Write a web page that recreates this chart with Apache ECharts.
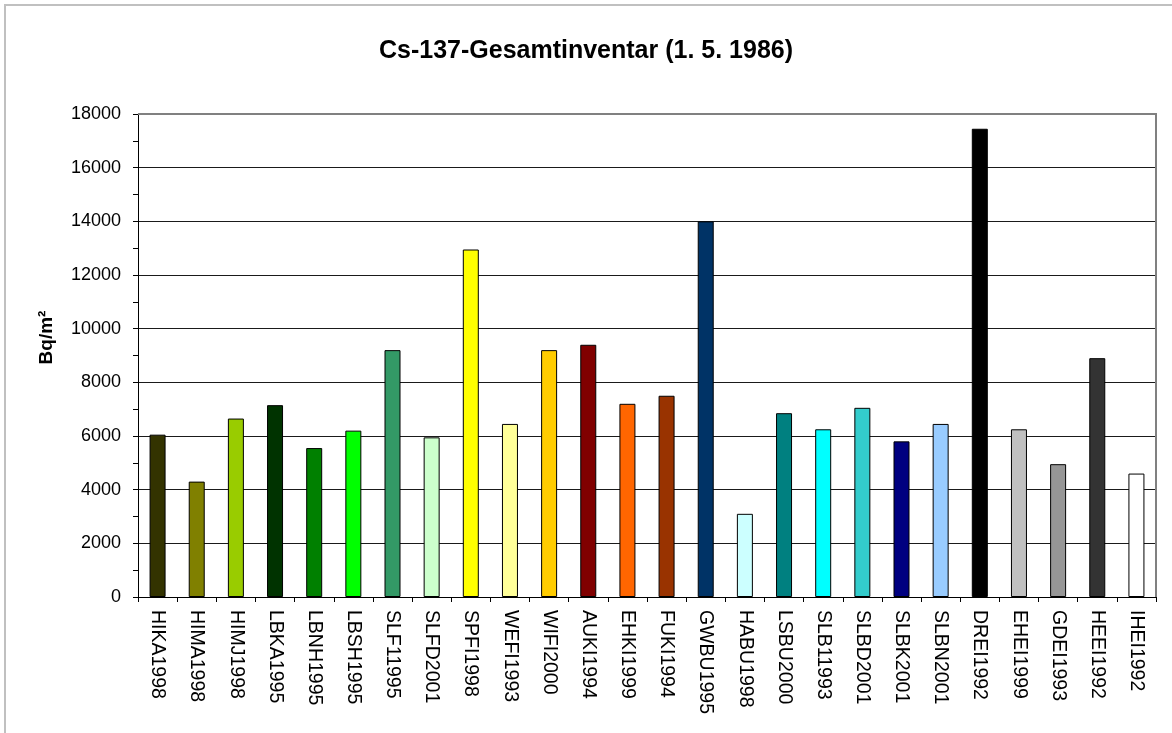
<!DOCTYPE html>
<html>
<head>
<meta charset="utf-8">
<script src="https://cdn.jsdelivr.net/npm/echarts@6/dist/echarts.min.js"></script>
<style>
  html, body { margin: 0; padding: 0; background: #fff; overflow: hidden; }
  #main { position: absolute; left: 0; top: 0; width: 1172px; height: 733px; }
  #frame { position: absolute; left: 4px; top: 4px; width: 1400px; height: 1000px;
    border: 2px solid #c0c0c0; pointer-events: none; }
</style>
</head>
<body>
<div id="main"></div>
<div id="frame"></div>
<script>
// sites / sampling year
const sites = [
  'HIKA1998', 'HIMA1998', 'HIMJ1998', 'LBKA1995', 'LBNH1995', 'LBSH1995',
  'SLF11995', 'SLFD2001', 'SPFI1998', 'WEFI1993', 'WIFI2000', 'AUKI1994',
  'EHKI1999', 'FUKI1994', 'GWBU1995', 'HABU1998', 'LSBU2000', 'SLB11993',
  'SLBD2001', 'SLBK2001', 'SLBN2001', 'DREI1992', 'EHEI1999', 'GDEI1993',
  'HEEI1992', 'IHEI1992'
]

// Cs-137 inventory in Bq/m2, decay corrected to 1.5.1986
const inventory = [
  6050, 4300, 6650, 7150, 5550, 6200,
  9200, 5950, 12950, 6450, 9200, 9400,
  7200, 7500, 14000, 3100, 6850, 6250,
  7050, 5800, 6450, 17450, 6250, 4950,
  8900, 4600
]

const barColors = [
  '#333300', '#808000', '#99cc00', '#003300', '#008000', '#00ff00',
  '#339966', '#ccffcc', '#ffff00', '#ffff99', '#ffcc00', '#800000',
  '#ff6600', '#993300', '#003366', '#ccffff', '#008080', '#00ffff',
  '#33cccc', '#000080', '#99ccff', '#000000', '#c0c0c0', '#969696',
  '#333333', '#ffffff'
]

const yTicks = { min: 0, max: 18000, step: 2000 }

const font = 'Liberation Sans, Arial, sans-serif'

const chart = echarts.init(document.getElementById('main'))

const barData = inventory.map((v, i) => ({
  value: v,
  itemStyle: { color: barColors[i] }
}))

chart.setOption({
  backgroundColor: '#fff',
  animation: false,
  title: {
    text: 'Cs-137-Gesamtinventar (1. 5. 1986)',
    left: 'center',
    top: 34,
    textStyle: { fontFamily: font, fontSize: 25, fontWeight: 'bold', color: '#000' }
  },
  grid: { left: 138, right: 16, top: 114, bottom: 136 },
  xAxis: {
    type: 'category',
    data: sites,
    boundaryGap: true,
    axisLine: { lineStyle: { color: '#000', width: 1 } },
    axisTick: { show: true, alignWithLabel: false, length: 5, lineStyle: { color: '#000' } },
    axisLabel: {
      interval: 0,
      rotate: -90,
      margin: 13,
      fontFamily: font,
      fontSize: 19.5,
      color: '#000'
    },
    splitLine: { show: false }
  },
  yAxis: {
    type: 'value',
    min: yTicks.min,
    max: yTicks.max,
    interval: yTicks.step,
    name: 'Bq/m²',
    nameLocation: 'middle',
    nameGap: 82,
    nameRotate: 90,
    nameTextStyle: { fontFamily: font, fontSize: 19, fontWeight: 'bold', color: '#000', padding: [0, 0, 0, 36] },
    axisLine: { show: true, lineStyle: { color: '#000', width: 1 } },
    axisTick: { show: true, length: 5, lineStyle: { color: '#000' } },
    minorTick: { show: true, splitNumber: 2, length: 5, lineStyle: { color: '#000' } },
    axisLabel: {
      fontFamily: font, fontSize: 18, color: '#000', margin: 17,
      formatter: function (value) {
        return String(value)
      }
    },
    splitLine: { show: true, lineStyle: { color: '#1a1a1a', width: 1 } }
  },
  graphic: [{
    type: 'polyline',
    shape: { points: [[138, 114], [1156, 114], [1156, 597]] },
    style: { stroke: '#808080', lineWidth: 2, fill: null },
    z: 10
  }],
  series: [{
    type: 'bar',
    data: barData,
    barWidth: 16,
    itemStyle: { borderColor: '#000', borderWidth: 1 }
  }]
})
</script>
</body>
</html>
